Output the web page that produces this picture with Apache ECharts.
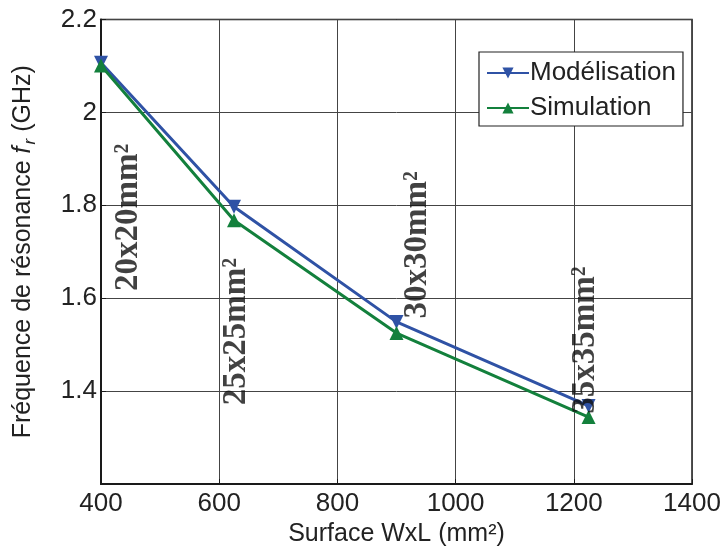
<!DOCTYPE html>
<html><head><meta charset="utf-8">
<script src="https://cdn.jsdelivr.net/npm/echarts@6/dist/echarts.min.js"></script>
<style>html,body{margin:0;padding:0;background:#fff}#c{width:723px;height:547px}</style>
</head><body><div id="c"></div>
<script>
const surfaces = [400, 625, 900, 1225];
const modelisation = [2.107, 1.797, 1.549, 1.368];
const simulation = [2.101, 1.768, 1.525, 1.344];
const xTicks = [400, 600, 800, 1000, 1200, 1400];
const yTicks = [1.2, 1.4, 1.6, 1.8, 2.0, 2.2];
const annotationText = ['20x20mm²', '25x25mm²', '30x30mm²', '35x35mm²'];
const annotationX = [447, 630, 935, 1219];
const annotationY = [1.774, 1.528, 1.715, 1.510];

const font = 'Liberation Sans, Arial, sans-serif';
const chart = echarts.init(document.getElementById('c'));
chart.setOption({
  animation: false,
  backgroundColor: '#fff',
  grid: {left: 101, right: 31, top: 19.5, bottom: 63, show: true, outerBoundsMode: 'none', containLabel: false,
    borderColor: '#1a1a1a', borderWidth: 1.5, backgroundColor: 'transparent'},
  legend: {
    data: ['Modélisation', 'Simulation'],
    orient: 'vertical', left: 479, top: 52,
    padding: [8, 7, 5, 7], itemGap: 9, itemWidth: 42, itemHeight: 14,
    backgroundColor: '#fff', borderColor: '#222', borderWidth: 1.2,
    textStyle: {fontFamily: font, fontSize: 26, color: '#222', padding: [0, 0, 0, -4]}
  },
  xAxis: {
    type: 'value', min: xTicks[0], max: xTicks[xTicks.length - 1], interval: 200,
    name: 'Surface WxL (mm²)', nameLocation: 'middle', nameGap: 35,
    nameTextStyle: {fontFamily: font, fontSize: 25, color: '#222'},
    axisLine: {show: true, lineStyle: {color: '#1a1a1a', width: 2}},
    axisTick: {show: true, inside: true, length: 5, lineStyle: {color: '#1a1a1a'}},
    axisLabel: {fontFamily: font, fontSize: 26, color: '#222', margin: 7, formatter: v => String(v)},
    splitLine: {show: true, lineStyle: {color: '#444', width: 1}}
  },
  yAxis: {
    type: 'value', min: yTicks[0], max: yTicks[yTicks.length - 1], interval: 0.2,
    name: '{n|Fréquence de résonance }{it|f}{sub|r}{n| (GHz)}', nameLocation: 'middle', nameGap: 62, nameRotate: 90,
    nameTextStyle: {
      fontFamily: font, fontSize: 25, color: '#222',
      rich: {
        n: {fontFamily: font, fontSize: 25, color: '#222'},
        it: {fontFamily: font, fontSize: 25, color: '#222', fontStyle: 'italic'},
        sub: {fontFamily: font, fontSize: 17, color: '#222', fontStyle: 'italic', verticalAlign: 'bottom', padding: [14, 0, 0, 2]}
      }
    },
    axisLine: {show: true, lineStyle: {color: '#1a1a1a', width: 2}},
    axisTick: {show: true, inside: true, length: 5, lineStyle: {color: '#1a1a1a'}},
    axisLabel: {fontFamily: font, fontSize: 26, color: '#222', margin: 4,
      formatter: v => (Math.abs(v - yTicks[0]) < 1e-6 ? '' : String(+v.toFixed(1)))},
    splitLine: {show: true, lineStyle: {color: '#444', width: 1}}
  },
  series: [
    {
      name: 'Modélisation', type: 'line', data: surfaces.map((x, i) => [x, modelisation[i]]),
      symbol: 'triangle', symbolRotate: 180, symbolSize: 14,
      lineStyle: {color: '#2f52a5', width: 3}, itemStyle: {color: '#2f52a5'}, z: 3
    },
    {
      name: 'Simulation', type: 'line', data: surfaces.map((x, i) => [x, simulation[i]]),
      symbol: 'triangle', symbolSize: 14,
      lineStyle: {color: '#13803c', width: 3}, itemStyle: {color: '#13803c'}, z: 4
    },
    {
      name: 'labels', type: 'scatter', silent: true, symbolSize: 0, z: 10,
      data: annotationX.map((x, i) => ({value: [x, annotationY[i]], name: annotationText[i]})),
      label: {show: true, position: 'inside', rotate: 90, formatter: p => p.name,
        fontFamily: 'Liberation Serif, Times New Roman, serif', fontWeight: 'bold', fontSize: 33, color: '#111'}
    }
  ]
});
</script></body></html>
